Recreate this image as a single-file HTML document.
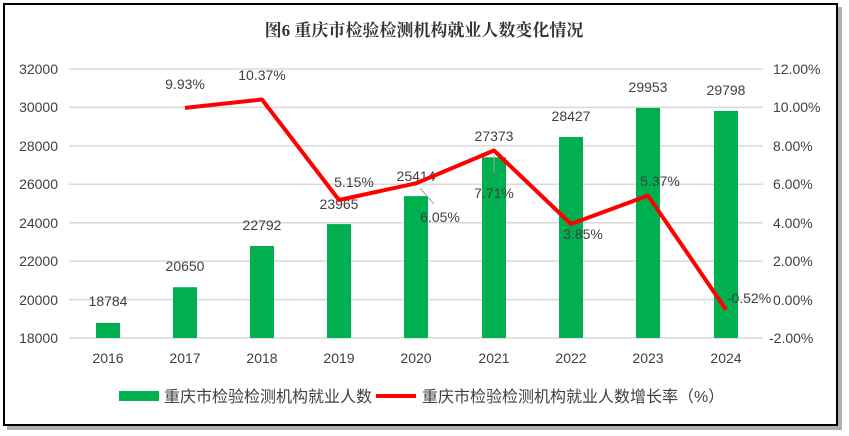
<!DOCTYPE html>
<html><head><meta charset="utf-8"><style>
html,body{margin:0;padding:0;background:#fff;}
svg{display:block;}
text{font-family:"Liberation Sans","Noto Sans CJK SC",sans-serif;fill:#404040;}
</style></head><body>
<svg width="849" height="436" viewBox="0 0 849 436" xmlns="http://www.w3.org/2000/svg">
<rect x="0" y="0" width="849" height="436" fill="#fff"/>
<rect x="7" y="7" width="835" height="423" fill="#b0b0b0"/>
<rect x="4" y="4" width="833" height="421" fill="#fff" stroke="#000" stroke-width="2"/>
<text x="424" y="36" text-anchor="middle" style="font-family:'Liberation Serif','Noto Serif CJK SC',serif;font-weight:bold;font-size:17px;fill:#333">图6 重庆市检验检测机构就业人数变化情况</text>
<g stroke="#d9d9d9" stroke-width="1.5">
<line x1="69" y1="69" x2="763" y2="69"/><line x1="69" y1="107.4" x2="763" y2="107.4"/>
<line x1="69" y1="145.9" x2="763" y2="145.9"/><line x1="69" y1="184.3" x2="763" y2="184.3"/>
<line x1="69" y1="222.7" x2="763" y2="222.7"/><line x1="69" y1="261.1" x2="763" y2="261.1"/>
<line x1="69" y1="299.6" x2="763" y2="299.6"/><line x1="69" y1="338" x2="763" y2="338"/>
</g>
<g font-size="14" text-anchor="end">
<text x="58" y="74">32000</text><text x="58" y="112">30000</text><text x="58" y="151">28000</text>
<text x="58" y="189">26000</text><text x="58" y="228">24000</text><text x="58" y="266">22000</text>
<text x="58" y="305">20000</text><text x="58" y="343">18000</text>
</g>
<g font-size="14" text-anchor="start">
<text x="773" y="74">12.00%</text><text x="773" y="112">10.00%</text><text x="773" y="151">8.00%</text>
<text x="773" y="189">6.00%</text><text x="773" y="228">4.00%</text><text x="773" y="266">2.00%</text>
<text x="773" y="305">0.00%</text><text x="769" y="343">-2.00%</text>
</g>
<g font-size="14" text-anchor="middle">
<text x="108" y="363">2016</text><text x="185" y="363">2017</text><text x="262" y="363">2018</text>
<text x="339" y="363">2019</text><text x="416" y="363">2020</text><text x="494" y="363">2021</text>
<text x="571" y="363">2022</text><text x="648" y="363">2023</text><text x="726" y="363">2024</text>
</g>
<g fill="#00b050">
<rect x="96" y="322.9" width="24" height="15.1"/>
<rect x="173" y="287.2" width="24" height="50.8"/>
<rect x="250" y="246" width="24" height="92"/>
<rect x="327" y="224.1" width="24" height="113.9"/>
<rect x="404" y="196.1" width="24" height="141.9"/>
<rect x="482" y="157.3" width="24" height="180.7"/>
<rect x="559" y="137" width="24" height="201"/>
<rect x="636" y="107.9" width="24" height="230.1"/>
<rect x="714" y="110.9" width="24" height="227.1"/>
</g>
<g font-size="14" text-anchor="middle">
<text x="108" y="306">18784</text><text x="185" y="271">20650</text><text x="262" y="230">22792</text>
<text x="339" y="209">23965</text><text x="416" y="181">25414</text><text x="494" y="141">27373</text>
<text x="571" y="121">28427</text><text x="648" y="92">29953</text><text x="726" y="95">29798</text>
</g>
<line x1="494" y1="155" x2="494" y2="173" stroke="#a6a6a6" stroke-width="1"/>
<line x1="420" y1="188" x2="434" y2="204" stroke="#a6a6a6" stroke-width="1"/>
<polyline fill="none" stroke="#ff0000" stroke-width="4" stroke-linejoin="round" points="185,107.9 262,99.5 339,200 416,183.3 494,150.5 571,224 648,195.6 726,309.6"/>
<g font-size="14" text-anchor="middle">
<text x="185" y="89">9.93%</text><text x="262" y="80">10.37%</text><text x="354" y="187">5.15%</text>
<text x="440" y="222">6.05%</text><text x="494" y="198">7.71%</text><text x="583" y="239">3.85%</text>
<text x="660" y="186">5.37%</text><text x="749" y="303">-0.52%</text>
</g>
<rect x="119" y="391" width="40" height="10" fill="#00b050"/>
<text x="164" y="402" font-size="16">重庆市检验检测机构就业人数</text>
<line x1="376" y1="396" x2="416" y2="396" stroke="#ff0000" stroke-width="4"/>
<text x="422" y="402" font-size="16">重庆市检验检测机构就业人数增长率（%）</text>
</svg>
</body></html>
